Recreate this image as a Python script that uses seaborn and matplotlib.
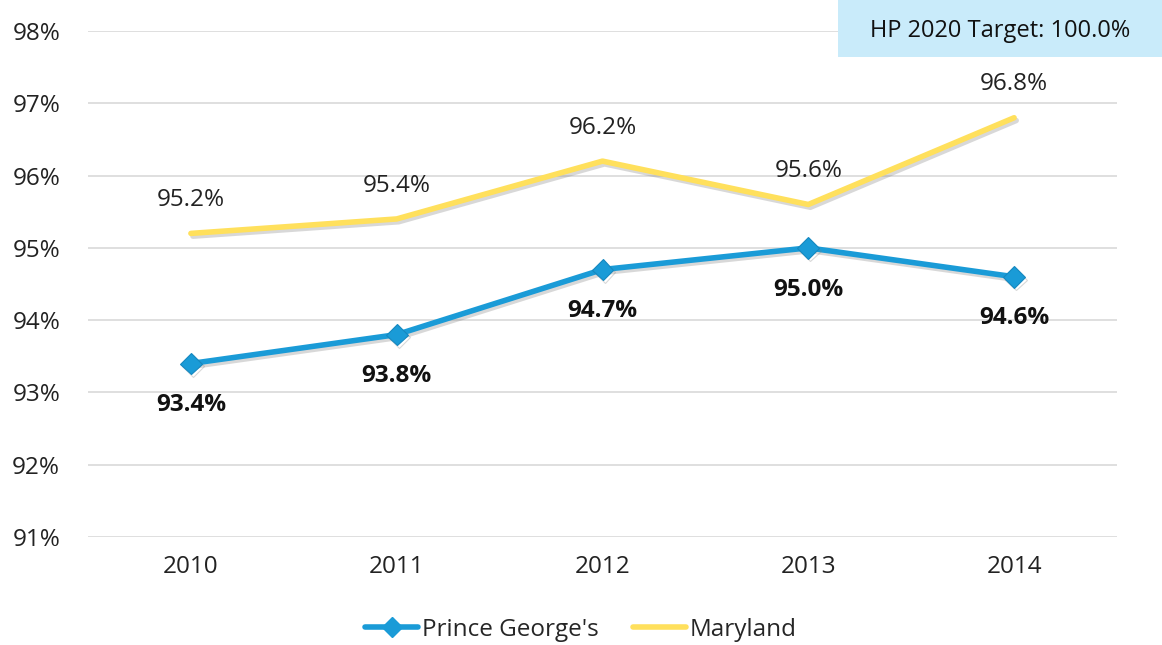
import matplotlib
matplotlib.use("Agg")
import matplotlib.pyplot as plt
import matplotlib.patheffects as pe
from matplotlib.patches import Rectangle
from matplotlib.lines import Line2D
import seaborn as sns
import pandas as pd

years = ["2010", "2011", "2012", "2013", "2014"]
prince_georges = [93.4, 93.8, 94.7, 95.0, 94.6]
maryland = [95.2, 95.4, 96.2, 95.6, 96.8]
yticks = [91, 92, 93, 94, 95, 96, 97, 98]
target_text = "HP 2020 Target: 100.0%"

sns.set_theme(style="white")
plt.rcParams["font.family"] = ["Open Sans", "DejaVu Sans"]

df = pd.DataFrame({
    "Year": years * 2,
    "Value": prince_georges + maryland,
    "Series": ["Prince George's"] * 5 + ["Maryland"] * 5,
})
df["x"] = list(range(5)) * 2

blue = "#1A9BD7"
yellow = "#FFE05C"

fig = plt.figure(figsize=(11.62, 6.45), dpi=100)
ax = fig.add_axes([88 / 1162, 1 - 537 / 645, (1117 - 88) / 1162, (537 - 31) / 645])

shadow = [pe.SimpleLineShadow(offset=(1.5, -2), shadow_color="gray", alpha=0.3), pe.Normal()]

sns.lineplot(data=df[df.Series == "Maryland"], x="x", y="Value", ax=ax,
             color=yellow, linewidth=4, legend=False, path_effects=shadow)
sns.lineplot(data=df[df.Series == "Prince George's"], x="x", y="Value", ax=ax,
             color=blue, linewidth=4, marker="D", markersize=11,
             markeredgecolor="#1588C0", markeredgewidth=0.8,
             legend=False, path_effects=shadow)

for i, v in enumerate(maryland):
    ax.annotate(f"{v:.1f}%", (i, v), xytext=(0, 24), textcoords="offset points",
                ha="center", va="center", fontsize=17.5, color="#222222")
for i, v in enumerate(prince_georges):
    ax.annotate(f"{v:.1f}%", (i, v), xytext=(0, -30), textcoords="offset points",
                ha="center", va="center", fontsize=17.5, fontweight="bold", color="#111111")

ax.set_xlim(-0.5, 4.5)
ax.set_ylim(91, 98)
ax.set_yticks(yticks)
ax.set_yticklabels([f"{t}%" for t in yticks])
ax.set_xticks(range(5))
ax.set_xticklabels(years)
ax.tick_params(axis="both", labelsize=17.5, colors="#222222", length=0)
ax.tick_params(axis="y", pad=20)
ax.tick_params(axis="x", pad=13)
ax.set_xlabel("")
ax.set_ylabel("")
ax.grid(axis="y", color="#D9D9D9", linewidth=1.2)
ax.set_axisbelow(True)
for s in ax.spines.values():
    s.set_visible(False)

# target box
fig.patches.append(Rectangle((838 / 1162, 1 - 57 / 645), (1162 - 838) / 1162, 57 / 645,
                             transform=fig.transFigure, facecolor="#C9EBFA",
                             edgecolor="none", zorder=5))
fig.text(1000 / 1162, 1 - 31 / 645, target_text, ha="center", va="center",
         fontsize=17, color="#111111", zorder=6)

handles = [
    Line2D([], [], color=blue, linewidth=4, marker="D", markersize=10),
    Line2D([], [], color=yellow, linewidth=4),
]
fig.legend(handles, ["Prince George's", "Maryland"], loc="center",
           bbox_to_anchor=(0.5, 1 - 630 / 645), ncol=2, frameon=False,
           fontsize=17.5, handlelength=2.2, handletextpad=0.15, columnspacing=1.4)

fig.savefig("out.png", dpi=100)
